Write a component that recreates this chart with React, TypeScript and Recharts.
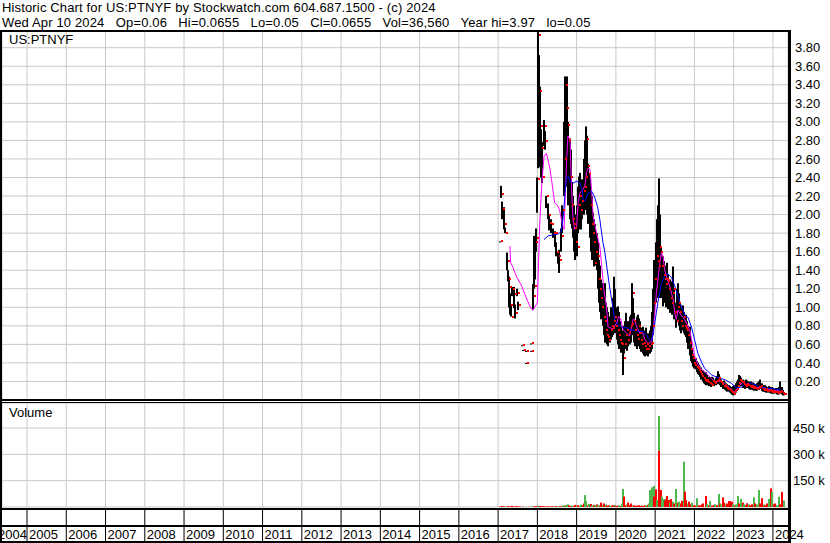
import React from 'react';
import { ComposedChart, Bar, Line, Scatter, XAxis, YAxis, CartesianGrid, Cell } from 'recharts';

const FONT = '"Liberation Sans", Arial, Helvetica, sans-serif';

const yearTicks = [2004, 2005, 2006, 2007, 2008, 2009, 2010, 2011, 2012, 2013, 2014, 2015, 2016, 2017, 2018, 2019, 2020, 2021, 2022, 2023, 2024];
const priceTicks = [0.2, 0.4, 0.6, 0.8, 1.0, 1.2, 1.4, 1.6, 1.8, 2.0, 2.2, 2.4, 2.6, 2.8, 3.0, 3.2, 3.4, 3.6, 3.8];
const volumeTicks = [150000, 300000, 450000];
const timeDomain = [2004.363, 2024.384];
const priceDomain = [0, 3.98];
const volumeDomain = [0, 593000];

// [decimal year, high, low, close]
const priceBars: [number, number, number, number][] = [
  [2017.04, 1.71, 1.70, 1.71], [2017.08, 2.31, 2.18, 2.22], [2017.11, 2.14, 1.95, 2.06], [2017.14, 2.08, 1.84, 1.90],
  [2017.17, 1.86, 1.80, 1.80], [2017.22, 1.59, 1.40, 1.50], [2017.25, 1.40, 1.28, 1.31], [2017.28, 1.33, 1.00, 1.22],
  [2017.30, 1.15, 0.92, 1.03], [2017.33, 1.03, 0.90, 0.90], [2017.36, 1.22, 1.12, 1.20], [2017.40, 1.22, 0.99, 1.14],
  [2017.43, 1.03, 0.88, 0.94], [2017.47, 1.20, 1.12, 1.15], [2017.51, 1.06, 0.97, 1.03],
  [2017.62, 0.59, 0.59, 0.59], [2017.64, 0.54, 0.54, 0.54], [2017.70, 0.53, 0.53, 0.53], [2017.72, 0.40, 0.40, 0.40],
  [2017.84, 0.61, 0.61, 0.61], [2017.85, 0.53, 0.53, 0.53],
  [2017.89, 1.25, 0.97, 1.12], [2017.91, 1.77, 1.20, 1.23], [2017.94, 1.73, 1.30, 1.70], [2017.97, 1.85, 1.60, 1.75],
  [2017.99, 2.40, 2.02, 2.38], [2018.02, 3.98, 2.50, 3.94], [2018.04, 3.72, 3.10, 3.33], [2018.07, 3.38, 2.51, 2.95],
  [2018.10, 2.92, 2.40, 2.72], [2018.13, 2.78, 2.34, 2.41], [2018.17, 3.02, 2.74, 2.96], [2018.19, 2.90, 2.70, 2.79],
  [2018.23, 2.20, 2.07, 2.20], [2018.26, 2.12, 1.95, 2.00], [2018.30, 2.00, 1.83, 1.91], [2018.35, 1.95, 1.80, 1.90],
  [2018.40, 1.85, 1.75, 1.80], [2018.44, 1.82, 1.65, 1.80], [2018.48, 1.70, 1.55, 1.60], [2018.52, 1.60, 1.47, 1.55],
  [2018.56, 1.62, 1.37, 1.51], [2018.60, 1.85, 1.60, 1.77], [2018.63, 2.10, 1.80, 2.05], [2018.67, 3.00, 2.20, 2.60],
  [2018.70, 3.49, 2.50, 3.40], [2018.73, 3.20, 2.30, 3.15], [2018.76, 3.49, 2.60, 2.97], [2018.79, 3.00, 2.10, 2.80],
  [2018.82, 2.82, 1.95, 2.40], [2018.85, 2.70, 1.90, 2.10], [2018.88, 2.35, 1.85, 1.95], [2018.91, 2.20, 1.75, 1.90],
  [2018.94, 2.10, 1.60, 1.85], [2018.97, 2.00, 1.51, 1.70], [2019.00, 2.10, 1.55, 1.65], [2019.03, 2.30, 1.80, 2.10],
  [2019.06, 2.41, 1.90, 2.20], [2019.09, 2.45, 1.84, 2.05], [2019.12, 2.30, 1.84, 2.15], [2019.15, 2.38, 1.95, 2.25],
  [2019.18, 2.60, 2.00, 2.30], [2019.21, 2.80, 2.05, 2.40], [2019.24, 2.95, 2.10, 2.82], [2019.27, 2.85, 2.00, 2.52],
  [2019.30, 2.55, 1.90, 2.44], [2019.33, 2.45, 1.75, 2.10], [2019.36, 2.24, 1.60, 1.90], [2019.39, 2.20, 1.51, 1.80],
  [2019.42, 2.02, 1.55, 1.70], [2019.45, 1.95, 1.44, 1.48], [2019.48, 1.90, 1.45, 1.60], [2019.51, 1.80, 1.40, 1.55],
  [2019.54, 1.70, 1.20, 1.30], [2019.57, 1.51, 1.05, 1.20], [2019.60, 1.45, 0.95, 1.10], [2019.63, 1.30, 0.87, 1.00],
  [2019.66, 1.26, 0.80, 0.90], [2019.69, 1.10, 0.70, 0.85], [2019.72, 1.26, 0.62, 0.75], [2019.75, 1.05, 0.62, 0.70],
  [2019.78, 1.00, 0.60, 0.68], [2019.81, 0.95, 0.58, 0.65], [2019.84, 0.90, 0.62, 0.75], [2019.87, 1.00, 0.65, 0.80],
  [2019.90, 0.95, 0.68, 0.78], [2019.93, 1.10, 0.70, 0.85], [2019.96, 1.33, 0.75, 0.90], [2019.99, 1.20, 0.72, 0.80],
  [2020.02, 1.00, 0.65, 0.75], [2020.05, 1.01, 0.60, 0.70], [2020.08, 0.95, 0.55, 0.65], [2020.11, 0.85, 0.55, 0.62],
  [2020.14, 0.80, 0.51, 0.60], [2020.17, 0.75, 0.27, 0.45], [2020.20, 0.80, 0.50, 0.60], [2020.23, 0.85, 0.55, 0.70],
  [2020.26, 0.94, 0.60, 0.75], [2020.29, 0.80, 0.53, 0.65], [2020.32, 0.85, 0.58, 0.72], [2020.35, 0.90, 0.60, 0.80],
  [2020.38, 0.92, 0.62, 0.82], [2020.41, 1.26, 0.70, 1.15], [2020.44, 1.10, 0.70, 0.85], [2020.47, 0.94, 0.62, 0.75],
  [2020.50, 0.85, 0.58, 0.70], [2020.53, 0.90, 0.55, 0.66], [2020.56, 0.92, 0.60, 0.80], [2020.59, 0.88, 0.58, 0.72],
  [2020.62, 0.85, 0.55, 0.65], [2020.65, 0.78, 0.52, 0.60], [2020.68, 0.79, 0.50, 0.62], [2020.71, 0.75, 0.48, 0.58],
  [2020.74, 0.72, 0.47, 0.55], [2020.77, 0.78, 0.50, 0.60], [2020.80, 0.70, 0.48, 0.55], [2020.83, 0.72, 0.47, 0.58],
  [2020.86, 0.75, 0.50, 0.60], [2020.89, 0.80, 0.52, 0.62], [2020.92, 0.95, 0.55, 0.80], [2020.95, 1.20, 0.70, 1.05],
  [2020.98, 1.51, 0.90, 1.30], [2021.01, 1.70, 1.05, 1.55], [2021.04, 1.95, 1.20, 1.50], [2021.07, 2.10, 1.10, 1.45],
  [2021.10, 2.39, 1.30, 1.65], [2021.13, 2.00, 1.10, 1.60], [2021.16, 1.66, 1.10, 1.45], [2021.19, 1.55, 1.01, 1.35],
  [2021.22, 1.50, 1.05, 1.30], [2021.25, 1.45, 1.05, 1.25], [2021.28, 1.40, 1.00, 1.30], [2021.31, 1.48, 1.05, 1.28],
  [2021.34, 1.35, 0.98, 1.20], [2021.37, 1.30, 0.94, 1.10], [2021.40, 1.25, 0.95, 1.05], [2021.43, 1.28, 0.92, 1.15],
  [2021.46, 1.44, 0.95, 1.20], [2021.49, 1.20, 0.87, 0.95], [2021.52, 1.05, 0.78, 0.85], [2021.55, 1.20, 0.85, 1.00],
  [2021.58, 1.26, 0.88, 1.05], [2021.61, 1.15, 0.80, 0.95], [2021.64, 1.05, 0.75, 0.85], [2021.67, 1.00, 0.72, 0.80],
  [2021.70, 1.02, 0.75, 0.90], [2021.73, 0.95, 0.72, 0.80], [2021.76, 0.90, 0.70, 0.78], [2021.79, 0.92, 0.68, 0.75],
  [2021.82, 0.85, 0.62, 0.70], [2021.85, 0.80, 0.55, 0.62], [2021.88, 0.79, 0.48, 0.55], [2021.91, 0.65, 0.42, 0.48],
  [2021.94, 0.55, 0.40, 0.45], [2021.97, 0.50, 0.36, 0.40], [2022.00, 0.47, 0.34, 0.38], [2022.03, 0.45, 0.33, 0.36],
  [2022.06, 0.42, 0.30, 0.35], [2022.09, 0.40, 0.28, 0.32], [2022.12, 0.38, 0.27, 0.30], [2022.15, 0.36, 0.25, 0.28],
  [2022.18, 0.35, 0.22, 0.26], [2022.21, 0.32, 0.20, 0.24], [2022.24, 0.30, 0.18, 0.22], [2022.27, 0.28, 0.17, 0.20],
  [2022.30, 0.30, 0.16, 0.22], [2022.33, 0.27, 0.16, 0.19], [2022.36, 0.25, 0.15, 0.18], [2022.39, 0.24, 0.15, 0.17],
  [2022.42, 0.22, 0.14, 0.16], [2022.45, 0.25, 0.15, 0.20], [2022.48, 0.24, 0.16, 0.19], [2022.51, 0.22, 0.15, 0.18],
  [2022.54, 0.24, 0.16, 0.21], [2022.57, 0.26, 0.17, 0.22], [2022.60, 0.31, 0.18, 0.24], [2022.63, 0.28, 0.17, 0.21],
  [2022.66, 0.25, 0.16, 0.19], [2022.69, 0.22, 0.14, 0.17], [2022.72, 0.20, 0.12, 0.15], [2022.75, 0.21, 0.12, 0.16],
  [2022.78, 0.19, 0.11, 0.14], [2022.81, 0.18, 0.10, 0.13], [2022.84, 0.17, 0.09, 0.12], [2022.87, 0.16, 0.09, 0.11],
  [2022.90, 0.15, 0.08, 0.10], [2022.93, 0.14, 0.07, 0.09], [2022.96, 0.13, 0.06, 0.08], [2022.99, 0.15, 0.05, 0.07],
  [2023.02, 0.16, 0.06, 0.10], [2023.05, 0.18, 0.08, 0.12], [2023.08, 0.20, 0.10, 0.15], [2023.11, 0.22, 0.12, 0.18],
  [2023.14, 0.27, 0.14, 0.22], [2023.17, 0.26, 0.15, 0.20], [2023.20, 0.24, 0.15, 0.19], [2023.23, 0.22, 0.13, 0.17],
  [2023.26, 0.21, 0.13, 0.16], [2023.29, 0.20, 0.12, 0.15], [2023.32, 0.22, 0.13, 0.17], [2023.35, 0.21, 0.13, 0.16],
  [2023.38, 0.20, 0.12, 0.15], [2023.41, 0.19, 0.11, 0.14], [2023.44, 0.20, 0.12, 0.15], [2023.47, 0.18, 0.11, 0.13],
  [2023.50, 0.19, 0.11, 0.14], [2023.53, 0.18, 0.10, 0.13], [2023.56, 0.17, 0.10, 0.12], [2023.59, 0.18, 0.10, 0.13],
  [2023.62, 0.19, 0.11, 0.14], [2023.65, 0.20, 0.11, 0.14], [2023.68, 0.22, 0.12, 0.15], [2023.71, 0.18, 0.10, 0.12],
  [2023.74, 0.16, 0.09, 0.11], [2023.77, 0.15, 0.09, 0.11], [2023.80, 0.16, 0.09, 0.12], [2023.83, 0.15, 0.08, 0.10],
  [2023.86, 0.14, 0.08, 0.10], [2023.89, 0.15, 0.08, 0.11], [2023.92, 0.14, 0.08, 0.10], [2023.95, 0.13, 0.07, 0.09],
  [2023.98, 0.14, 0.07, 0.10], [2024.01, 0.13, 0.07, 0.09], [2024.04, 0.12, 0.07, 0.09], [2024.07, 0.13, 0.07, 0.09],
  [2024.10, 0.12, 0.06, 0.08], [2024.13, 0.13, 0.06, 0.09], [2024.16, 0.14, 0.06, 0.09], [2024.19, 0.20, 0.07, 0.10],
  [2024.22, 0.14, 0.06, 0.08], [2024.25, 0.11, 0.05, 0.07], [2024.27, 0.0655, 0.05, 0.0655],
];

// short moving average (magenta): [decimal year, value]
const shortAverage: [number, number][] = [
  [2017.30, 1.66], [2017.32, 1.48], [2017.38, 1.43], [2017.47, 1.33], [2017.60, 1.23], [2017.68, 1.14],
  [2017.76, 1.06], [2017.83, 0.99], [2017.89, 0.97], [2017.93, 1.00], [2018.00, 1.05], [2018.06, 1.91],
  [2018.11, 2.31], [2018.17, 2.63], [2018.23, 2.66], [2018.27, 2.59], [2018.32, 2.49], [2018.36, 2.38],
  [2018.40, 2.25], [2018.44, 2.13], [2018.53, 2.09], [2018.57, 2.04], [2018.61, 1.95], [2018.66, 1.86],
  [2018.68, 1.84], [2018.72, 2.31], [2018.75, 2.63], [2018.78, 2.85], [2018.83, 2.81], [2018.85, 2.56],
  [2018.88, 2.20], [2018.91, 1.95], [2018.95, 1.84], [2019.00, 1.87], [2019.04, 2.13], [2019.08, 2.23],
  [2019.16, 2.27], [2019.21, 2.31], [2019.25, 2.45], [2019.29, 2.50], [2019.34, 2.49], [2019.38, 2.27],
  [2019.42, 1.98], [2019.51, 1.80], [2019.59, 1.66], [2019.64, 1.44], [2019.69, 1.20], [2019.76, 1.01],
  [2019.80, 0.79], [2019.84, 0.78], [2019.93, 0.77], [2019.97, 0.80], [2020.02, 0.83], [2020.07, 0.90],
  [2020.12, 0.88], [2020.18, 0.76], [2020.27, 0.72], [2020.35, 0.69], [2020.44, 0.87], [2020.48, 0.87],
  [2020.52, 0.80], [2020.61, 0.72], [2020.69, 0.72], [2020.74, 0.65], [2020.82, 0.61], [2020.91, 0.63],
  [2020.95, 0.72], [2020.99, 0.94], [2021.03, 1.15], [2021.07, 1.30], [2021.12, 1.48], [2021.16, 1.59],
  [2021.20, 1.55], [2021.24, 1.41], [2021.29, 1.33], [2021.37, 1.23], [2021.46, 1.08], [2021.50, 0.94],
  [2021.54, 0.87], [2021.58, 0.97], [2021.67, 0.91], [2021.75, 0.87], [2021.84, 0.79], [2021.88, 0.76],
  [2021.97, 0.56], [2022.01, 0.47], [2022.09, 0.38], [2022.18, 0.33], [2022.27, 0.30], [2022.39, 0.25],
  [2022.52, 0.20], [2022.65, 0.20], [2022.77, 0.18], [2022.85, 0.15], [2022.98, 0.09], [2023.03, 0.09],
  [2023.11, 0.14], [2023.23, 0.19], [2023.36, 0.16], [2023.49, 0.15], [2023.62, 0.13], [2023.79, 0.13],
  [2023.92, 0.11], [2024.09, 0.10], [2024.27, 0.09],
];

// long moving average (blue): [decimal year, value]
const longAverage: [number, number][] = [
  [2018.17, 1.73], [2018.27, 1.77], [2018.53, 1.79], [2018.61, 1.82], [2018.66, 1.98], [2018.70, 2.20],
  [2018.74, 2.40], [2018.78, 2.42], [2018.83, 2.36], [2018.91, 2.34], [2019.00, 2.36], [2019.08, 2.34],
  [2019.14, 2.27], [2019.17, 2.13], [2019.23, 2.16], [2019.29, 2.23], [2019.38, 2.25], [2019.45, 2.20],
  [2019.53, 2.09], [2019.59, 1.95], [2019.67, 1.70], [2019.72, 1.59], [2019.79, 1.37], [2019.84, 1.22],
  [2019.92, 1.01], [2019.97, 0.87], [2020.06, 0.81], [2020.18, 0.78], [2020.28, 0.78], [2020.35, 0.76],
  [2020.61, 0.74], [2020.69, 0.74], [2020.78, 0.70], [2020.86, 0.65], [2020.91, 0.64], [2020.95, 0.72],
  [2020.99, 0.83], [2021.03, 0.94], [2021.08, 1.08], [2021.16, 1.26], [2021.25, 1.35], [2021.33, 1.36],
  [2021.42, 1.32], [2021.50, 1.23], [2021.58, 1.12], [2021.67, 1.01], [2021.76, 0.91], [2021.84, 0.89],
  [2021.93, 0.78], [2022.01, 0.64], [2022.09, 0.50], [2022.18, 0.41], [2022.26, 0.34], [2022.44, 0.27],
  [2022.60, 0.24], [2022.77, 0.22], [2022.94, 0.18], [2023.07, 0.13], [2023.20, 0.14], [2023.33, 0.18],
  [2023.45, 0.18], [2023.62, 0.15], [2023.79, 0.13], [2024.05, 0.12], [2024.27, 0.10],
];

// [decimal year, shares traded, 1 = up day]
const volumeRows: [number, number, number][] = [
  [2017.04, 3000, 0], [2017.09, 5000, 0], [2017.15, 4000, 0], [2017.20, 3000, 1], [2017.25, 5000, 0], [2017.30, 4000, 0],
  [2017.35, 6000, 0], [2017.40, 3000, 0], [2017.45, 5000, 0], [2017.50, 4000, 0], [2017.55, 3000, 0], [2017.63, 2000, 0],
  [2017.71, 2000, 1], [2017.78, 2000, 0], [2017.86, 3000, 1], [2017.91, 4000, 0], [2017.96, 5000, 0],
  [2018.01, 8000, 1], [2018.06, 6000, 0], [2018.11, 5000, 0], [2018.16, 4000, 0], [2018.21, 3000, 0], [2018.27, 4000, 0],
  [2018.32, 3000, 0], [2018.37, 4000, 0], [2018.42, 3000, 0], [2018.47, 4000, 0], [2018.52, 4000, 1], [2018.57, 5000, 0],
  [2018.62, 4000, 0], [2018.66, 10000, 1], [2018.70, 8000, 0], [2018.74, 12000, 1], [2018.78, 15000, 1], [2018.81, 9000, 0],
  [2018.85, 6000, 0], [2018.89, 8000, 1], [2018.93, 5000, 0], [2018.97, 12000, 0],
  [2019.00, 8000, 1], [2019.04, 10000, 0], [2019.08, 8000, 1], [2019.12, 14000, 1], [2019.16, 10000, 0], [2019.20, 20000, 0],
  [2019.22, 68000, 1], [2019.25, 34000, 1], [2019.28, 10000, 0], [2019.32, 18000, 1], [2019.36, 17000, 0], [2019.40, 8000, 1],
  [2019.44, 12000, 0], [2019.48, 10000, 1], [2019.51, 15000, 0], [2019.55, 12000, 1], [2019.59, 8000, 0], [2019.63, 25000, 0],
  [2019.67, 12000, 1], [2019.71, 20000, 0], [2019.74, 14000, 1], [2019.78, 8000, 0], [2019.82, 10000, 0], [2019.86, 6000, 1],
  [2019.90, 8000, 0], [2019.93, 10000, 0], [2019.97, 12000, 1],
  [2020.01, 6000, 0], [2020.05, 8000, 0], [2020.09, 10000, 1], [2020.13, 6000, 0], [2020.16, 20000, 1], [2020.18, 103000, 1],
  [2020.21, 60000, 0], [2020.24, 10000, 0], [2020.28, 15000, 1], [2020.32, 25000, 0], [2020.35, 12000, 0], [2020.39, 20000, 0],
  [2020.43, 8000, 1], [2020.47, 10000, 0], [2020.51, 6000, 0], [2020.55, 8000, 0], [2020.58, 10000, 0], [2020.62, 6000, 0],
  [2020.66, 8000, 0], [2020.70, 5000, 0], [2020.74, 10000, 0], [2020.78, 8000, 1], [2020.81, 12000, 0], [2020.85, 20000, 1],
  [2020.88, 97000, 1], [2020.92, 112000, 1], [2020.96, 120000, 1], [2020.98, 60000, 0],
  [2021.01, 100000, 0], [2021.05, 40000, 1], [2021.09, 519000, 1], [2021.11, 320000, 0], [2021.14, 97000, 0], [2021.18, 59000, 1],
  [2021.22, 45000, 1], [2021.25, 35000, 0], [2021.28, 45000, 0], [2021.31, 63000, 0], [2021.35, 40000, 0], [2021.38, 25000, 1],
  [2021.41, 45000, 0], [2021.45, 30000, 1], [2021.49, 20000, 0], [2021.54, 103000, 1], [2021.58, 25000, 0], [2021.62, 30000, 1],
  [2021.65, 20000, 0], [2021.69, 35000, 0], [2021.74, 258000, 1], [2021.75, 87000, 0], [2021.79, 40000, 0], [2021.83, 20000, 1],
  [2021.87, 30000, 0], [2021.91, 15000, 0], [2021.95, 25000, 1], [2021.98, 10000, 0],
  [2022.02, 8000, 0], [2022.07, 50000, 1], [2022.11, 10000, 0], [2022.15, 8000, 0], [2022.19, 15000, 0], [2022.23, 20000, 0],
  [2022.29, 63000, 0], [2022.33, 15000, 1], [2022.37, 10000, 0], [2022.41, 34000, 1], [2022.46, 8000, 0], [2022.49, 12000, 0],
  [2022.53, 15000, 1], [2022.57, 10000, 0], [2022.62, 74000, 1], [2022.66, 20000, 0], [2022.69, 15000, 1], [2022.72, 55000, 0],
  [2022.76, 25000, 0], [2022.80, 15000, 1], [2022.84, 20000, 0], [2022.88, 34000, 0], [2022.91, 34000, 0], [2022.95, 30000, 0],
  [2022.99, 15000, 1],
  [2023.03, 10000, 0], [2023.07, 15000, 1], [2023.11, 63000, 1], [2023.14, 20000, 0], [2023.19, 46000, 1], [2023.23, 25000, 0],
  [2023.27, 15000, 1], [2023.31, 10000, 0], [2023.35, 21000, 0], [2023.39, 15000, 1], [2023.42, 10000, 0], [2023.46, 15000, 0],
  [2023.51, 55000, 1], [2023.55, 20000, 0], [2023.59, 15000, 1], [2023.64, 97000, 1], [2023.68, 20000, 0], [2023.73, 50000, 0],
  [2023.77, 15000, 1], [2023.81, 10000, 0], [2023.84, 20000, 0], [2023.90, 46000, 1], [2023.96, 106000, 0], [2023.98, 87000, 1],
  [2024.02, 15000, 0], [2024.06, 20000, 0], [2024.10, 10000, 1], [2024.15, 59000, 1], [2024.19, 15000, 0], [2024.23, 86000, 0],
  [2024.27, 36560, 1],
];

const headerLine1 = 'Historic Chart for US:PTNYF by Stockwatch.com 604.687.1500 - (c) 2024';
const headerLine2 = 'Wed Apr 10 2024   Op=0.06   Hi=0.0655   Lo=0.05   Cl=0.0655   Vol=36,560   Year hi=3.97   lo=0.05';
const symbolLabel = 'US:PTNYF';
const volumeLabel = 'Volume';

const COLORS = {
  grid: '#c8c8c8',
  bar: '#000000',
  close: '#ff0000',
  shortAvg: '#ff00ff',
  longAvg: '#0000ff',
  volUp: '#4cb84c',
  volDown: '#ff0000',
};

const priceData = priceBars.map(([t, hi, lo, cl]) => ({ t, hi, lo, cl, range: [lo, hi] }));
const shortData = shortAverage.map(([t, v]) => ({ t, v }));
const longData = longAverage.map(([t, v]) => ({ t, v }));
const volumeData = volumeRows.map(([t, v, up]) => ({ t, v, up }));

const tickStyle = { fill: '#000', fontSize: 13, fontFamily: FONT };

const CloseMark = (p: any) => {
  if (p.cx == null || p.cy == null) return null;
  return <rect x={Math.round(p.cx) + 1} y={Math.round(p.cy) - 1} width={2} height={2} fill={COLORS.close} />;
};

// fixed-width stick centred on the library's bar position
const Stick = (p: any) => {
  if (p.x == null || p.y == null || p.height == null) return null;
  const cx = p.x + (p.width || 0) / 2;
  const top = Math.min(p.y, p.y + p.height);
  const h = Math.max(Math.abs(p.height), 1);
  return <rect x={Math.round(cx) - 1} y={top} width={2} height={h} fill={p.fill} />;
};

const YearTick = (props: any) => {
  const { x, y, payload } = props;
  const tx = Math.max(x + 2, -2);
  return (
    <g>
      <line x1={x} x2={x} y1={y + 2} y2={y + 35} stroke="#000" strokeWidth={1} />
      <text x={tx} y={y + 32} fontSize={13} fontFamily={FONT} fill="#000">{payload.value}</text>
    </g>
  );
};

const block = (left: number, top: number, width: number, height: number): React.CSSProperties => ({
  position: 'absolute', left, top, width, height, background: '#000',
});

const headerStyle: React.CSSProperties = {
  position: 'absolute', left: 2, fontSize: 13, lineHeight: '15px', whiteSpace: 'pre', color: '#000', letterSpacing: 0.15,
};

export default function App() {
  return (
    <div style={{ position: 'absolute', left: 0, top: 0, width: 830, height: 543, background: '#fff', overflow: 'hidden', fontFamily: FONT }}>
      <div style={{ ...headerStyle, top: 0 }}>{headerLine1}</div>
      <div style={{ ...headerStyle, top: 14.5 }}>{headerLine2}</div>

      <div style={{ position: 'absolute', left: 0, top: 0 }}>
        <ComposedChart width={830} height={543} data={priceData} margin={{ top: 31, right: 0, bottom: 143, left: 2 }}>
          <CartesianGrid stroke={COLORS.grid} strokeWidth={1} />
          <XAxis dataKey="t" type="number" domain={timeDomain} ticks={yearTicks} allowDataOverflow hide />
          <YAxis orientation="right" type="number" domain={priceDomain} ticks={priceTicks} interval={0} allowDataOverflow
            width={42} axisLine={false} tickLine={false} tickSize={0} tickMargin={7} tick={tickStyle}
            tickFormatter={(v: number) => v.toFixed(2)} />
          <Scatter dataKey="cl" shape={CloseMark} isAnimationActive={false} />
          <Bar dataKey="range" fill={COLORS.bar} barSize={2} shape={Stick} isAnimationActive={false} />
          <Line data={shortData} dataKey="v" stroke={COLORS.shortAvg} strokeWidth={1} dot={false} isAnimationActive={false} type="linear" />
          <Line data={longData} dataKey="v" stroke={COLORS.longAvg} strokeWidth={1} dot={false} isAnimationActive={false} type="linear" />
        </ComposedChart>
      </div>

      <div style={{ position: 'absolute', left: 0, top: 0 }}>
        <ComposedChart width={830} height={543} data={volumeData} margin={{ top: 403, right: 0, bottom: 0, left: 2 }}>
          <CartesianGrid stroke={COLORS.grid} strokeWidth={1} />
          <XAxis dataKey="t" type="number" domain={timeDomain} ticks={yearTicks} interval={0} allowDataOverflow
            height={36} axisLine={false} tickLine={false} tickSize={0} tickMargin={0} tick={<YearTick />} />
          <YAxis orientation="right" type="number" domain={volumeDomain} ticks={volumeTicks} interval={0} allowDataOverflow
            width={42} axisLine={false} tickLine={false} tickSize={0} tickMargin={5} tick={tickStyle}
            tickFormatter={(v: number) => `${v / 1000} k`} />
          <Bar dataKey="v" barSize={2} shape={Stick} isAnimationActive={false}>
            {volumeData.map((d, i) => (
              <Cell key={i} fill={d.up ? COLORS.volUp : COLORS.volDown} />
            ))}
          </Bar>
        </ComposedChart>
      </div>

      <div style={{ position: 'absolute', left: 9, top: 32, fontSize: 13, lineHeight: '15px', color: '#000' }}>{symbolLabel}</div>
      <div style={{ position: 'absolute', left: 9, top: 404.5, fontSize: 13, lineHeight: '15px', color: '#000' }}>{volumeLabel}</div>

      <div style={block(0, 30, 791, 2)} />
      <div style={block(0, 30, 2, 513)} />
      <div style={block(788, 30, 3, 513)} />
      <div style={block(0, 399, 788, 2)} />
      <div style={block(0, 402, 788, 1)} />
      <div style={block(0, 508, 788, 2)} />
      <div style={block(0, 525, 788, 2)} />
      <div style={block(0, 541, 791, 2)} />
    </div>
  );
}
